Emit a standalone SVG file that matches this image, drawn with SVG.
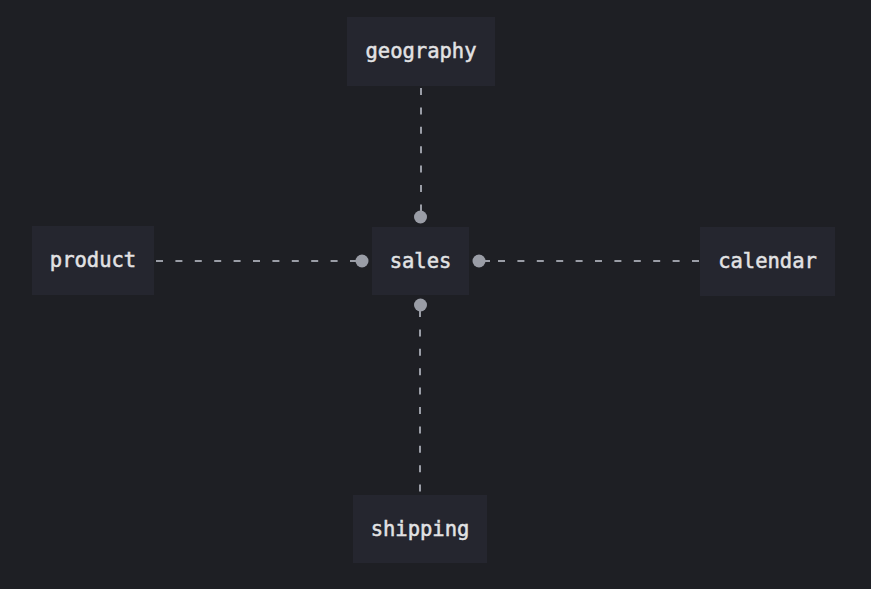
<svg xmlns="http://www.w3.org/2000/svg" width="871" height="589" viewBox="0 0 871 589">
<style>
.box{fill:#25262f}
.lbl{font-family:"DejaVu Sans Mono","Liberation Mono",monospace;font-size:20.5px;font-weight:normal;fill:#e2e2e4;stroke:#e2e2e4;stroke-width:0.5;text-anchor:middle;dominant-baseline:central}
.edge{stroke:#9a9da6;stroke-width:2;stroke-dasharray:7 12.4;fill:none}
.dot{fill:#9a9da6}
</style>
<rect width="871" height="589" fill="#1e1f24"/>
<g id="connectors">
<line class="edge" x1="421" y1="88" x2="421" y2="212"/>
<circle class="dot" cx="420.5" cy="217" r="6.5"/>
<line class="edge" x1="156" y1="261" x2="357" y2="261"/>
<circle class="dot" cx="362" cy="261" r="6.5"/>
<line class="edge" x1="498" y1="261" x2="700" y2="261"/>
<line stroke="#9a9da6" stroke-width="2" x1="479" y1="261" x2="490" y2="261"/>
<circle class="dot" cx="479" cy="261" r="6.5"/>
<line class="edge" x1="420" y1="310" x2="420" y2="493"/>
<circle class="dot" cx="420.5" cy="305" r="6.5"/>
</g>
<g id="geography"><rect class="box" x="347" y="17" width="148" height="69"/><text class="lbl" x="421" y="51">geography</text></g>
<g id="sales"><rect class="box" x="372" y="227" width="97" height="68"/><text class="lbl" x="420.5" y="261">sales</text></g>
<g id="product"><rect class="box" x="32" y="226" width="122" height="69"/><text class="lbl" x="93" y="260">product</text></g>
<g id="calendar"><rect class="box" x="700" y="227" width="135" height="69"/><text class="lbl" x="767.5" y="261">calendar</text></g>
<g id="shipping"><rect class="box" x="353" y="495" width="134" height="68"/><text class="lbl" x="420" y="529">shipping</text></g>
</svg>
